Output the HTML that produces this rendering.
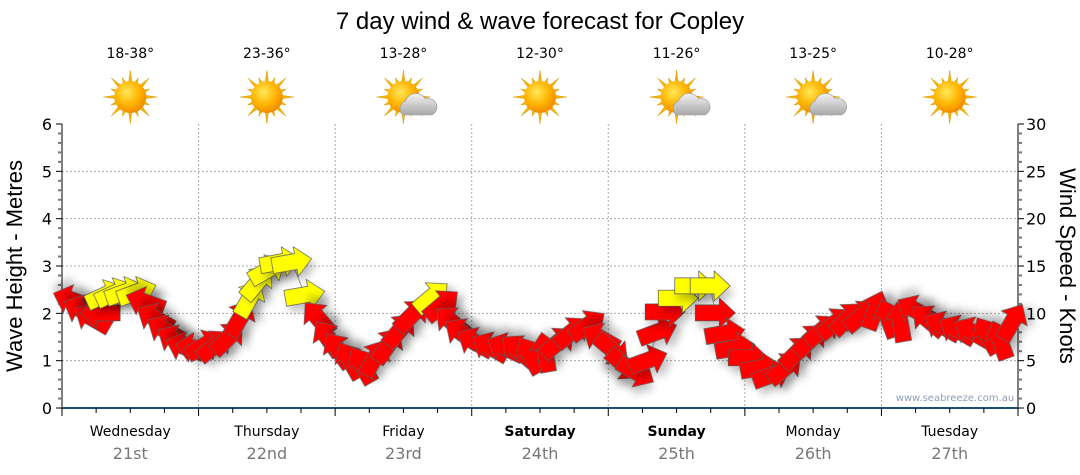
<!DOCTYPE html>
<html><head><meta charset="utf-8"><style>
html,body{margin:0;padding:0;background:#fff;}
svg{display:block;font-family:"Liberation Sans","DejaVu Sans",sans-serif;}
.v{font-family:"DejaVu Sans","Liberation Sans",sans-serif;}
</style></head><body>
<svg id="chart" width="1080" height="475" viewBox="0 0 1080 475">
<defs>
<filter id="sh" x="-50%" y="-50%" width="200%" height="200%"><feDropShadow dx="3" dy="7" stdDeviation="4" flood-color="#000" flood-opacity="0.22"/></filter>
<radialGradient id="sunG" cx="40%" cy="35%" r="65%"><stop offset="0" stop-color="#ffe85a"/><stop offset="0.6" stop-color="#ffb400"/><stop offset="1" stop-color="#f08c00"/></radialGradient>
<linearGradient id="cloudG" x1="0" y1="0" x2="0" y2="1"><stop offset="0" stop-color="#f2f2f2"/><stop offset="1" stop-color="#a8a8a8"/></linearGradient>
</defs>
<text x="540" y="29" text-anchor="middle" font-size="24" fill="#000">7 day wind &amp; wave forecast for Copley</text>
<g id="grid"></g>
<g id="axes"></g>
<g id="header"></g>
<polyline id="trace" fill="none" stroke="#999" stroke-width="1"/>
<g id="arrows"></g>
<text x="955" y="401" text-anchor="middle" font-size="10" fill="#8aa0b8" class="v">www.seabreeze.com.au</text>
<text transform="translate(22,266) rotate(-90)" text-anchor="middle" font-size="22" fill="#000">Wave Height - Metres</text>
<text transform="translate(1060,266) rotate(90)" text-anchor="middle" font-size="22" fill="#000">Wind Speed - Knots</text>
</svg>
<script>
const days=["Wednesday","Thursday","Friday","Saturday","Sunday","Monday","Tuesday"];
const dates=["21st","22nd","23rd","24th","25th","26th","27th"];
const boldDays=[false,false,false,true,true,false,false];
const temps=["18-38°","23-36°","13-28°","12-30°","11-26°","13-25°","10-28°"];
const icons=["sun","sun","cloud","sun","cloud","cloud","sun"];
const leftTicks=[0,1,2,3,4,5,6];
const rightTicks=[0,5,10,15,20,25,30];
const hours=[1.8,3.5,5.3,6.7,7.6,9.3,11.1,13.2,14.6,16.3,18.1,19.9,21.6,23.4,25.1,26.9,29.2,31.3,33,34.4,36.2,38.3,40.4,42.7,45,46.7,48.5,50.6,52.7,55,57.3,59.4,61.5,65,66.8,68.5,70.3,72.6,75.2,77.9,80.1,82.2,84.9,87.2,89.6,92.4,94.6,96.7,98.8,100.9,103,104.7,106,108.3,111.2,113.9,114.8,116.5,118.3,120.6,122.7,124.8,127.1,129.2,131.5,133.6,135.9,138.1,140.6,142.9,145.2,147.3,149.9,152.2,154.7,157.3,159.9,162.6,164.8,167];
const waves=[2.28,2.07,1.9,2.01,2.39,2.43,2.45,2.45,2.24,1.9,1.65,1.44,1.29,1.27,1.33,1.33,1.48,1.9,2.32,2.66,2.92,3.08,3.08,2.39,1.9,1.48,1.23,1.01,0.91,1.06,1.33,1.65,1.96,2.35,2.18,1.82,1.58,1.39,1.29,1.27,1.23,1.12,1.18,1.39,1.61,1.75,1.48,1.23,0.91,0.76,1.01,1.61,2.03,2.32,2.58,2.58,2.01,1.58,1.27,1.06,0.85,0.7,0.85,1.18,1.44,1.65,1.8,1.9,1.96,2.07,1.9,1.82,2.07,1.86,1.73,1.65,1.61,1.54,1.44,1.82];
const dirs=[200,205,210,180,-25,-25,-20,-20,200,210,210,210,200,190,-30,-40,-45,-60,-60,-50,-30,-10,-10,-10,-130,-125,-125,-120,-120,-60,-55,-50,-45,-40,-40,-140,-145,-150,-150,-155,-140,-120,-100,-40,-40,-35,-150,40,40,30,-20,-20,0,0,0,0,0,-10,-10,0,-10,-20,-40,-45,-45,-40,-40,-45,-40,-70,-110,-100,-150,-140,-150,-150,-150,-120,-110,-60];
const speeds=[14,14,14,14,8,8,8,8,14,14,14,14,14,14,14,14,14,14,8,8,8,8,8,8,14,14,14,14,14,14,14,14,14,8,14,14,14,14,14,14,14,14,14,14,14,14,14,14,14,14,14,14,14,8,8,8,14,14,14,14,14,14,14,14,14,14,14,14,14,14,14,14,14,14,14,14,14,14,14,14];

const NS="http://www.w3.org/2000/svg";
const X0=62,X1=1018,Y0=408,Y1=124;
const xS=h=>X0+h*(X1-X0)/168;
const yS=m=>Y0-m*(Y0-Y1)/6;
const yR=k=>Y0-k*(Y0-Y1)/30;
function mk(tag,attrs,parent){const e=document.createElementNS(NS,tag);for(const k in attrs)e.setAttribute(k,attrs[k]);parent.appendChild(e);return e;}
const grid=document.getElementById('grid'),axes=document.getElementById('axes'),header=document.getElementById('header');
leftTicks.forEach(v=>{if(v>0&&v<6){const l=mk('line',{x1:X0,x2:X1,y1:yS(v),y2:yS(v),stroke:'#aaa','stroke-dasharray':'2,2'},grid);

}});
for(let d=1;d<7;d++){const l=mk('line',{x1:xS(d*24),x2:xS(d*24),y1:Y1,y2:Y0,stroke:'#aaa','stroke-dasharray':'2,2'},grid);

}
mk('line',{x1:X0,x2:X0,y1:Y1,y2:Y0,stroke:'#000'},axes);
mk('line',{x1:X1,x2:X1,y1:Y1,y2:Y0,stroke:'#000'},axes);
mk('line',{x1:X0,x2:X1,y1:Y0,y2:Y0,stroke:'#1a4f7a','stroke-width':2},axes);
for(let i=0;i<=30;i++){const y=yS(i*0.2),major=i%5==0;
mk('line',{x1:X0-(major?6:4),x2:X0,y1:y,y2:y,stroke:major?'#000':'#777','stroke-width':major?1:2},axes);
mk('line',{x1:X1,x2:X1+(major?6:4),y1:y,y2:y,stroke:major?'#000':'#777','stroke-width':major?1:2},axes);}
for(let i=0;i<=28;i++){mk('line',{x1:xS(i*6),x2:xS(i*6),y1:Y0,y2:Y0+(i%4==0?8:5),stroke:'#000'},axes);}
leftTicks.forEach(v=>{const t=mk('text',{x:X0-10,y:yS(v)+6,'text-anchor':'end','font-size':16,fill:'#000',class:'v'},axes);t.textContent=v;

});
rightTicks.forEach(v=>{const t=mk('text',{x:X1+8,y:yR(v)+6,'font-size':16,fill:'#000',class:'v'},axes);t.textContent=v;

});
days.forEach((d,i)=>{const cx=xS(i*24+12);
const t=mk('text',{x:cx,y:436,'text-anchor':'middle','font-size':14,fill:'#000','font-weight':boldDays[i]?'bold':'normal',class:'v'},axes);t.textContent=d;


const t2=mk('text',{x:cx,y:459,'text-anchor':'middle','font-size':16,fill:'#777',class:'v'},axes);t2.textContent=dates[i];


const t3=mk('text',{x:cx,y:58,'text-anchor':'middle','font-size':14,fill:'#000',class:'v'},header);t3.textContent=temps[i];


const g=mk('g',{transform:`translate(${cx},97)`},header);


for(let r=0;r<16;r++){const a=r*Math.PI/8,L=r%2?21:27;
mk('polygon',{points:`${Math.cos(a-0.13)*14},${Math.sin(a-0.13)*14} ${Math.cos(a)*L},${Math.sin(a)*L} ${Math.cos(a+0.13)*14},${Math.sin(a+0.13)*14}`,fill:'#f5b400',stroke:'#d9a020','stroke-width':0.5},g);}
mk('circle',{cx:0,cy:0,r:16,fill:'url(#sunG)'},g);
if(icons[i]=='cloud'){mk('path',{d:'M0,18 a8,8 0 0 1 2,-14 a11,11 0 0 1 20,-2 a8,8 0 0 1 6,16 z',fill:'url(#cloudG)',stroke:'#999','stroke-width':0.6},g);}
});
document.getElementById('trace').setAttribute('points',hours.map((h,i)=>xS(h)+','+yS(waves[i])).join(' '));
const ag=document.getElementById('arrows');
hours.forEach((h,i)=>{const col=speeds[i]>=10?'#ff0000':'#ffff00';
const p=mk('polygon',{points:'-20,-8 4,-8 4,-15 20,0 4,15 4,8 -20,8',fill:col,stroke:'#555','stroke-width':0.7,filter:'url(#sh)',transform:`translate(${xS(h)},${yS(waves[i])}) rotate(${dirs[i]})`},ag);

});
</script>
</body></html>
